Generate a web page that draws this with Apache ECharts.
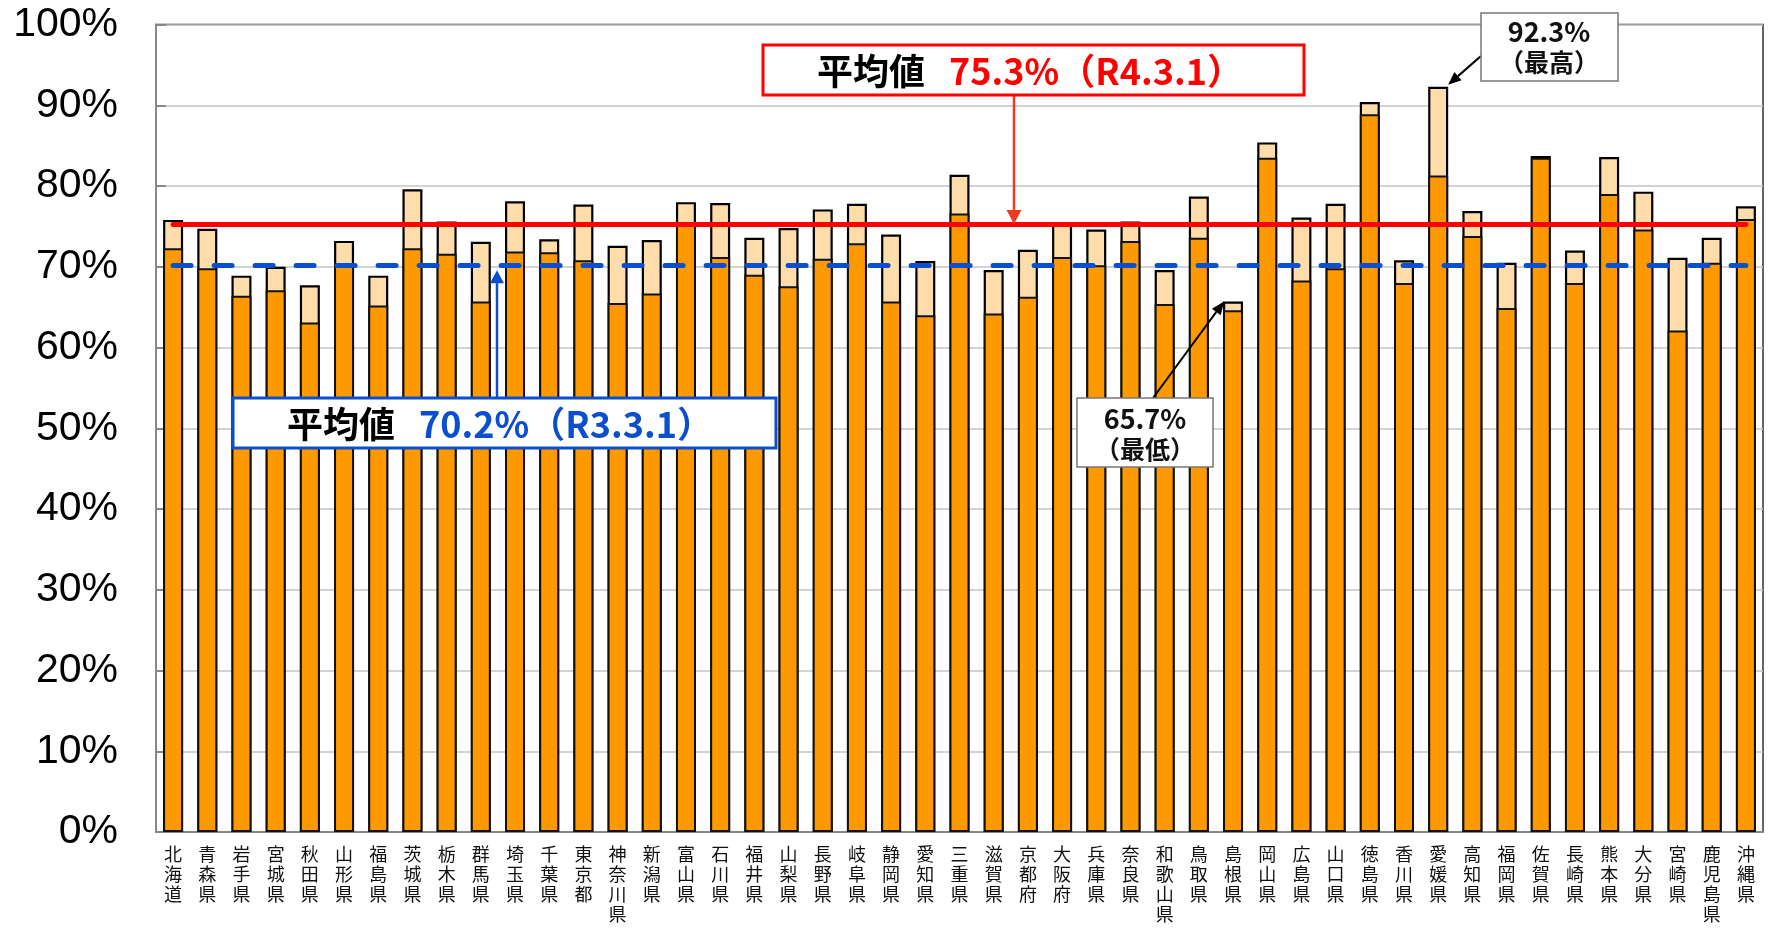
<!DOCTYPE html>
<html>
<head>
<meta charset="utf-8">
<script src="https://cdn.jsdelivr.net/npm/echarts@6/dist/echarts.min.js"></script>
<style>
  * { margin: 0; padding: 0; }
  body { background: #fff; }
  #main { width: 1769px; height: 928px; }
</style>
</head>
<body>
<div id="main"></div>
<script>
// 都道府県
const prefectures = ['北海道','青森県','岩手県','宮城県','秋田県','山形県','福島県','茨城県','栃木県','群馬県',
  '埼玉県','千葉県','東京都','神奈川県','新潟県','富山県','石川県','福井県','山梨県','長野県',
  '岐阜県','静岡県','愛知県','三重県','滋賀県','京都府','大阪府','兵庫県','奈良県','和歌山県',
  '鳥取県','島根県','岡山県','広島県','山口県','徳島県','香川県','愛媛県','高知県','福岡県',
  '佐賀県','長崎県','熊本県','大分県','宮崎県','鹿児島県','沖縄県'];
// R3.3.1 時点 (%)
const rateR3 = [72.3, 69.8, 66.4, 67.1, 63.1, 70.4, 65.2, 72.3, 71.6, 65.7,
  71.9, 71.8, 70.8, 65.5, 66.7, 75.5, 71.2, 69.0, 67.6, 71.0,
  72.9, 65.7, 64.0, 76.6, 64.2, 66.3, 71.2, 70.2, 73.2, 65.4,
  73.6, 64.6, 83.5, 68.3, 69.8, 88.9, 68.0, 81.3, 73.8, 64.9,
  83.5, 68.0, 79.0, 74.6, 62.1, 70.5, 75.9];
// R4.3.1 時点 (%)
const rateR4 = [75.8, 74.7, 68.9, 70.0, 67.7, 73.2, 68.9, 79.6, 75.6, 73.1,
  78.1, 73.4, 77.7, 72.6, 73.3, 78.0, 77.9, 73.6, 74.8, 77.1,
  77.8, 74.0, 70.7, 81.4, 69.6, 72.1, 75.4, 74.6, 75.6, 69.6,
  78.7, 65.7, 85.4, 76.1, 77.8, 90.4, 70.8, 92.3, 76.9, 70.5,
  83.7, 72.0, 83.6, 79.3, 71.1, 73.6, 77.5];
// 平均値
const avgR4 = 75.3;
const avgR3 = 70.2;

const jpFont = '"Noto Sans CJK JP", sans-serif';

let myChart = echarts.init(document.getElementById('main'));

let option = {
    backgroundColor: '#fff',
    animation: false,
    grid: {
        left: 156, right: 6, top: 24.5, bottom: 96,
        show: true, borderColor: '#333', borderWidth: 1.5
    },
    xAxis: {
        type: 'category',
        data: prefectures,
        axisLine: { lineStyle: { color: '#888', width: 2 } },
        axisTick: { inside: true, length: 5, lineStyle: { color: '#999' } },
        axisLabel: {
            interval: 0,
            margin: 12,
            fontFamily: jpFont,
            fontSize: 18,
            lineHeight: 20,
            color: '#111',
            formatter: v => v.split('').join('\n')
        }
    },
    yAxis: {
        type: 'value',
        min: 0, max: 100, interval: 10,
        axisLine: { show: true, lineStyle: { color: '#888', width: 2 } },
        axisTick: { show: true, inside: true, length: 10, lineStyle: { color: '#888', width: 2 } },
        axisLabel: {
            formatter: '{value}%',
            fontFamily: '"Liberation Sans", Arial, sans-serif',
            fontSize: 41,
            color: '#000',
            margin: 38
        },
        splitLine: { lineStyle: { color: '#c4c4c4', width: 1.5 } }
    },
    series: [
        {
            name: 'R4.3.1',
            type: 'bar',
            data: rateR4,
            barWidth: 20,
            itemStyle: { color: '#FFDDAA', borderColor: '#000', borderWidth: 2.2 }
        },
        {
            name: 'R3.3.1',
            type: 'bar',
            data: rateR3,
            barWidth: 20,
            barGap: '-100%',
            itemStyle: { color: '#FF9900', borderColor: '#111', borderWidth: 2 },
            markLine: {
                silent: true,
                symbol: ['none', 'none'],
                label: { show: false },
                data: [
                    [
                        { coord: [prefectures[0], avgR4], lineStyle: { color: '#FF0000', width: 5, type: 'solid', cap: 'round' } },
                        { coord: [prefectures[prefectures.length - 1], avgR4] }
                    ],
                    [
                        { coord: [prefectures[0], avgR3], lineStyle: { color: '#0A4FD0', width: 5, type: [18, 23], cap: 'round' } },
                        { coord: [prefectures[prefectures.length - 1], avgR3] }
                    ]
                ]
            }
        }
    ]
};
myChart.setOption(option);

// 矢印 (線 + 三角)
function arrow(x1, y1, x2, y2, color, lw, headLen, headW) {
    let dx = x2 - x1, dy = y2 - y1;
    let len = Math.sqrt(dx * dx + dy * dy);
    let ux = dx / len, uy = dy / len;
    let bx = x2 - ux * headLen, by = y2 - uy * headLen;
    return [
        { type: 'line', z: 20, shape: { x1: x1, y1: y1, x2: bx, y2: by }, style: { stroke: color, lineWidth: lw } },
        { type: 'polygon', z: 20, shape: { points: [[x2, y2], [bx - uy * headW / 2, by + ux * headW / 2], [bx + uy * headW / 2, by - ux * headW / 2]] }, style: { fill: color } }
    ];
}

function boxText(x, y, text, rich) {
    return { type: 'text', z: 22, style: { x: x, y: y, text: text, rich: rich, align: 'center', verticalAlign: 'middle' } };
}

let yRed = myChart.convertToPixel({ yAxisIndex: 0 }, avgR4);
let yBlue = myChart.convertToPixel({ yAxisIndex: 0 }, avgR3);

let maxIdx = rateR4.indexOf(Math.max(...rateR4));
let minIdx = rateR4.indexOf(Math.min(...rateR4));
let maxPt = myChart.convertToPixel({ seriesIndex: 0 }, [maxIdx, rateR4[maxIdx]]);
let minPt = myChart.convertToPixel({ seriesIndex: 0 }, [minIdx, rateR4[minIdx]]);

let bigRich = (c) => ({
    k: { fontFamily: jpFont, fontWeight: 'bold', fontSize: 36, fill: '#000', padding: [0, 24, 0, 0] },
    v: { fontFamily: jpFont, fontWeight: 'bold', fontSize: 36, fill: c }
});
let smallRich = {
    a: { fontFamily: jpFont, fontWeight: 'bold', fontSize: 27, fill: '#111', lineHeight: 31 },
    b: { fontFamily: jpFont, fontWeight: 'bold', fontSize: 25, fill: '#111', lineHeight: 31 }
};

let graphics = [];
// 平均値 R4
graphics.push({ type: 'rect', z: 21, shape: { x: 763, y: 45, width: 541, height: 50 }, style: { fill: '#fff', stroke: '#FF0000', lineWidth: 3 } });
graphics.push(boxText(1030, 71, '{k|平均値}{v|' + avgR4.toFixed(1) + '%（R4.3.1）}', bigRich('#FF0000')));
graphics = graphics.concat(arrow(1014, 96, 1014, yRed, '#EE3B20', 2.5, 14, 15));
// 平均値 R3
graphics.push({ type: 'rect', z: 21, shape: { x: 233, y: 398, width: 543, height: 50 }, style: { fill: '#fff', stroke: '#0A4FD0', lineWidth: 3 } });
graphics.push(boxText(500, 424, '{k|平均値}{v|' + avgR3.toFixed(1) + '%（R3.3.1）}', bigRich('#0A4FD0')));
graphics = graphics.concat(arrow(497, 398, 497, yBlue + 5, '#0A4FD0', 2.5, 13, 14));
// 最高
graphics.push({ type: 'rect', z: 21, shape: { x: 1481, y: 13, width: 137, height: 68 }, style: { fill: '#fff', stroke: '#777', lineWidth: 1.5 } });
graphics.push(boxText(1549, 47, '{a|' + rateR4[maxIdx].toFixed(1) + '%}\n{b|（最高）}', smallRich));
graphics = graphics.concat(arrow(1481, 56, maxPt[0] + 10, maxPt[1] - 2, '#000', 2, 13, 11));
// 最低
graphics.push({ type: 'rect', z: 21, shape: { x: 1077, y: 398, width: 136, height: 69 }, style: { fill: '#fff', stroke: '#777', lineWidth: 1.5 } });
graphics.push(boxText(1145, 434, '{a|' + rateR4[minIdx].toFixed(1) + '%}\n{b|（最低）}', smallRich));
graphics = graphics.concat(arrow(1153, 398, minPt[0] - 9, minPt[1], '#000', 2, 13, 11));

myChart.setOption({ graphic: graphics });
</script>
</body>
</html>
